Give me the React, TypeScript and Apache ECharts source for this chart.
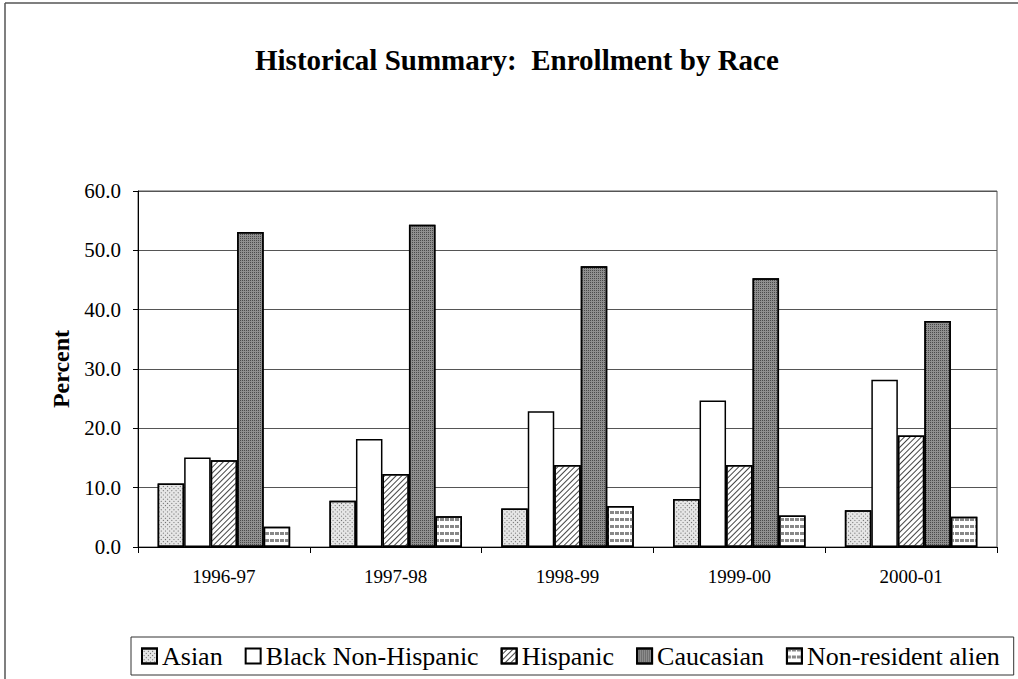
import React, { useEffect, useRef } from "react";
import * as echarts from "echarts";

const categories = ["1996-97", "1997-98", "1998-99", "1999-00", "2000-01"];
const seriesNames = ["Asian", "Black Non-Hispanic", "Hispanic", "Caucasian", "Non-resident alien"];
const asian = [10.7, 7.8, 6.5, 8.1, 6.2];
const black = [15.1, 18.2, 22.9, 24.7, 28.2];
const hispanic = [14.6, 12.3, 13.8, 13.8, 18.8];
const caucasian = [53.1, 54.3, 47.3, 45.3, 38.1];
const nonResident = [3.4, 5.2, 6.9, 5.3, 5.1];
const yTicks = { min: 0, max: 60, interval: 10 };

const FONT = "'Liberation Serif', 'Times New Roman', serif";

export default function App() {
  const ref = useRef<HTMLDivElement>(null);
  useEffect(() => {
    if (!ref.current) return;
    const chart = echarts.init(ref.current, null, { renderer: "svg" });
    const values = [asian, black, hispanic, caucasian, nonResident];
    const styles: any[] = [
      {
        color: "#e6e6e6",
        decal: { symbol: "rect", color: "#666", dashArrayX: [[1, 2]], dashArrayY: [1, 2], rotation: Math.PI / 4, symbolSize: 1 },
      },
      { color: "#ffffff" },
      {
        color: "#ffffff",
        decal: { symbol: "rect", color: "#444", dashArrayX: [1, 0], dashArrayY: [1, 3], rotation: -Math.PI / 4, symbolSize: 1 },
      },
      {
        color: "#8f8f8f",
        decal: { symbol: "rect", color: "#4a4a4a", dashArrayX: [[1, 1]], dashArrayY: [1, 1], rotation: 0, symbolSize: 1 },
      },
      {
        color: "#ffffff",
        decal: { symbol: "rect", color: "#888", dashArrayX: [[4, 1]], dashArrayY: [3, 4], rotation: 0, symbolSize: 1 },
      },
    ];
    chart.setOption({
      animation: false,
      backgroundColor: "#ffffff",
      textStyle: { fontFamily: FONT },
      title: {
        text: "Historical Summary:  Enrollment by Race",
        left: 250,
        top: 40,
        textStyle: { fontFamily: FONT, fontSize: 29, fontWeight: "bold", color: "#000" },
      },
      grid: {
        left: 138,
        right: 21,
        top: 191,
        bottom: 132,
        show: true,
        borderColor: "#555",
        borderWidth: 1,
      },
      legend: {
        data: seriesNames,
        icon: "rect",
        left: 131,
        top: 637,
        borderColor: "#333",
        borderWidth: 1,
        padding: [6, 14, 6, 10],
        itemGap: 22,
        itemWidth: 15,
        itemHeight: 15,
        textStyle: { fontFamily: FONT, fontSize: 26, color: "#000" },
      },
      xAxis: {
        type: "category",
        data: categories,
        axisLine: { lineStyle: { color: "#000", width: 1 } },
        axisTick: { show: true, length: 6, lineStyle: { color: "#000" } },
        axisLabel: { fontFamily: FONT, fontSize: 19, color: "#000", margin: 20 },
      },
      yAxis: {
        type: "value",
        min: yTicks.min,
        max: yTicks.max,
        interval: yTicks.interval,
        name: "Percent",
        nameLocation: "middle",
        nameGap: 64,
        nameRotate: 90,
        nameTextStyle: { fontFamily: FONT, fontSize: 24, fontWeight: "bold", color: "#000" },
        axisLine: { show: true, lineStyle: { color: "#000", width: 1 } },
        axisTick: { show: true, length: 5, lineStyle: { color: "#000" } },
        axisLabel: { fontFamily: FONT, fontSize: 21, color: "#000", margin: 17, formatter: (v: number) => v.toFixed(1) },
        splitLine: { show: true, lineStyle: { color: "#555", width: 1 } },
      },
      graphic: [
        { type: "line", shape: { x1: 5, y1: 3, x2: 1018, y2: 3 }, style: { stroke: "#555", lineWidth: 1.5 } },
        { type: "line", shape: { x1: 5, y1: 3, x2: 5, y2: 679 }, style: { stroke: "#555", lineWidth: 1.5 } },
      ],
      series: seriesNames.map((name, i) => ({
        name,
        type: "bar",
        data: values[i],
        barWidth: 26.5,
        barGap: "0%",
        itemStyle: { ...styles[i], borderColor: "#000", borderWidth: 1.5 },
      })),
    });
    return () => chart.dispose();
  }, []);
  return (
    <div
      ref={ref}
      style={{ position: "absolute", left: 0, top: 0, width: 1018, height: 679 }}
    />
  );
}
